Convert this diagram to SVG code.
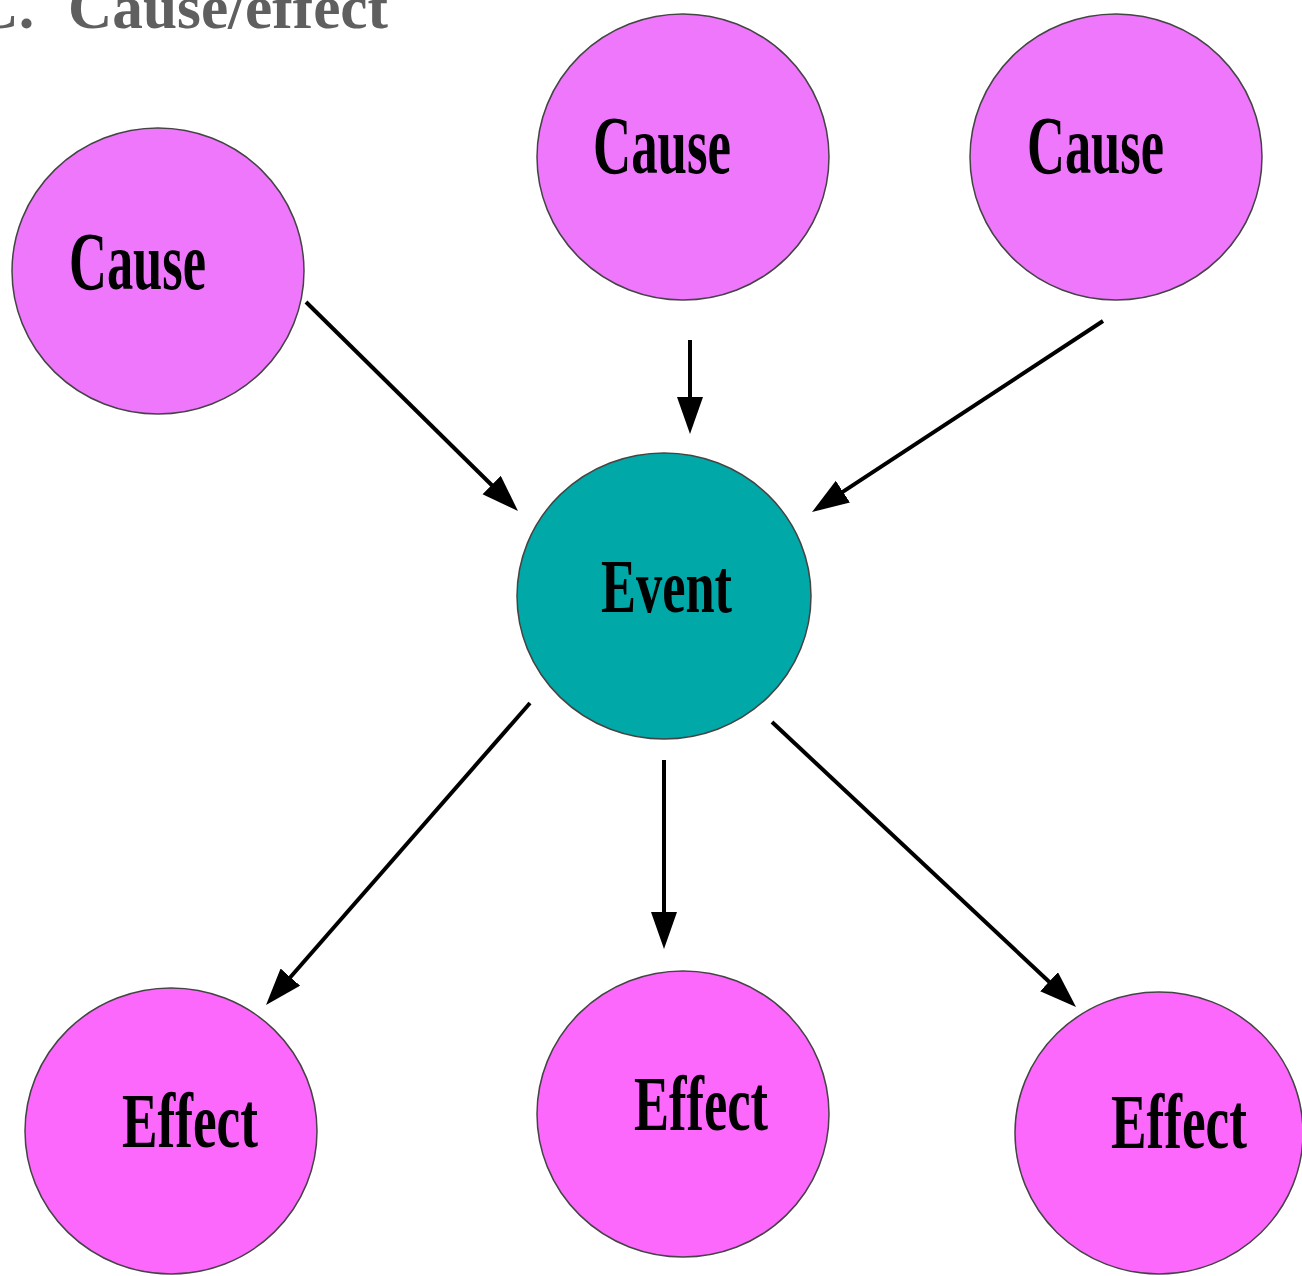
<svg xmlns="http://www.w3.org/2000/svg" width="1302" height="1276" viewBox="0 0 1302 1276">
  <style>
    .title { font-family: "Liberation Serif", "Times New Roman", serif; font-weight: bold; font-size: 62px; fill: #5f5f5f; }
    .cause { fill: #ee77fc; stroke: #444; stroke-width: 1.5; }
    .effect { fill: #fc68fc; stroke: #444; stroke-width: 1.5; }
    .event { fill: #00a8a8; stroke: #444; stroke-width: 1.5; }
    .label { font-family: "Liberation Serif", "Times New Roman", serif; font-weight: bold; fill: #000; }
    .link { stroke: #000; stroke-width: 4; fill: none; marker-end: url(#head); }
  </style>
  <defs>
    <marker id="head" markerUnits="userSpaceOnUse" markerWidth="38" markerHeight="28" refX="29" refY="13" orient="auto">
      <path d="M0,0 L37,13 L0,26 Z" fill="#000"/>
    </marker>
  </defs>

  <rect width="1302" height="1276" fill="#fff"/>

  <!-- heading, partly off the page edge -->
  <text class="title" x="-26" y="28">C.</text>
  <text class="title" x="68" y="28" textLength="320" lengthAdjust="spacingAndGlyphs">Cause/effect</text>

  <g id="connectors">
    <line class="link" x1="306" y1="302" x2="512.3" y2="505.4"/>
    <line class="link" x1="690" y1="340" x2="690" y2="426"/>
    <line class="link" x1="1103" y1="321" x2="818.7" y2="507.6"/>
    <line class="link" x1="530" y1="703" x2="271.3" y2="999"/>
    <line class="link" x1="664" y1="760" x2="664" y2="941"/>
    <line class="link" x1="772" y1="722" x2="1070.2" y2="1001.5"/>
  </g>

  <g id="cause-1">
    <ellipse class="cause" cx="158" cy="271" rx="146" ry="143"/>
    <text class="label" x="69" y="289" font-size="82" textLength="137" lengthAdjust="spacingAndGlyphs">Cause</text>
  </g>
  <g id="cause-2">
    <ellipse class="cause" cx="683" cy="157" rx="146" ry="143"/>
    <text class="label" x="593" y="173" font-size="82" textLength="138" lengthAdjust="spacingAndGlyphs">Cause</text>
  </g>
  <g id="cause-3">
    <ellipse class="cause" cx="1116" cy="157" rx="146" ry="143"/>
    <text class="label" x="1027" y="173" font-size="82" textLength="137" lengthAdjust="spacingAndGlyphs">Cause</text>
  </g>

  <g id="event">
    <ellipse class="event" cx="664" cy="596" rx="147" ry="143"/>
    <text class="label" x="601" y="612" font-size="76" textLength="131" lengthAdjust="spacingAndGlyphs">Event</text>
  </g>

  <g id="effect-1">
    <ellipse class="effect" cx="171" cy="1131" rx="146" ry="143"/>
    <text class="label" x="122" y="1147" font-size="78" textLength="136" lengthAdjust="spacingAndGlyphs">Effect</text>
  </g>
  <g id="effect-2">
    <ellipse class="effect" cx="683" cy="1114" rx="146" ry="143"/>
    <text class="label" x="634" y="1130" font-size="78" textLength="134" lengthAdjust="spacingAndGlyphs">Effect</text>
  </g>
  <g id="effect-3">
    <ellipse class="effect" cx="1159" cy="1133" rx="144" ry="141"/>
    <text class="label" x="1111" y="1148" font-size="78" textLength="136" lengthAdjust="spacingAndGlyphs">Effect</text>
  </g>
</svg>
